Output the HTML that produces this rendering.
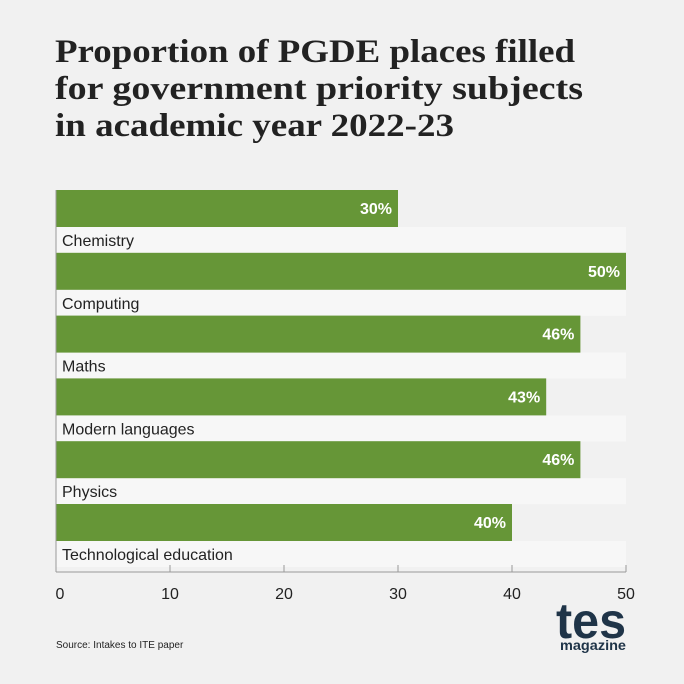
<!DOCTYPE html>
<html><head><meta charset="utf-8"><style>
html,body{margin:0;padding:0;background:#f1f1f1;}
svg{display:block;}
</style></head><body>
<svg id="chart" width="684" height="684" viewBox="0 0 684 684">
<rect width="684" height="684" fill="#f1f1f1"/>
<g font-family="'Liberation Serif',serif" font-weight="bold" font-size="33" fill="#222">
<text x="55" y="62" textLength="520" lengthAdjust="spacingAndGlyphs">Proportion of PGDE places filled</text>
<text x="55" y="99" textLength="528" lengthAdjust="spacingAndGlyphs">for government priority subjects</text>
<text x="55" y="136" textLength="399" lengthAdjust="spacingAndGlyphs">in academic year 2022-23</text>
</g>
<g id="plot"></g>
<text x="56" y="648" font-family="'Liberation Sans',sans-serif" font-size="10" fill="#222">Source: Intakes to ITE paper</text>
<g fill="#1f3448" font-family="'Liberation Sans',sans-serif" font-weight="bold">
<text x="556" y="638" font-size="50" textLength="70" lengthAdjust="spacingAndGlyphs">tes</text>
<text x="560" y="650" font-size="14" textLength="66" lengthAdjust="spacingAndGlyphs">magazine</text>
</g>
</svg>
<script>
const categories = ["Chemistry","Computing","Maths","Modern languages","Physics","Technological education"];
const values = [30,50,46,43,46,40];
const ticks = [0,10,20,30,40,50];
const NS = "http://www.w3.org/2000/svg";
const plot = document.getElementById("plot");
const x0 = 56, x1 = 626, xMax = 50;
const top0 = 190, step = 62.8, barH = 37, bandH = 26;
const axisY = 572;
function xs(v){ return x0 + (v / xMax) * (x1 - x0); }
function mk(tag, attrs){ const e = document.createElementNS(NS, tag); for (const k in attrs) e.setAttribute(k, attrs[k]); plot.appendChild(e); return e; }
categories.forEach((c, i) => {
  const y = top0 + i * step;
  const band = mk("rect", {x: x0, y: y + barH, width: x1 - x0, height: bandH, fill: "#f7f7f7"});
  
  
  const bar = mk("rect", {x: x0, y: y, width: xs(values[i]) - x0, height: barH, fill: "#669637"});
  
  
  const vl = mk("text", {x: xs(values[i]) - 6, y: y + 24, "text-anchor": "end", "font-family": "'Liberation Sans',sans-serif", "font-weight": "bold", "font-size": "16", fill: "#fff"});
  vl.textContent = values[i] + "%";
  
  
  const cl = mk("text", {x: 62, y: y + barH + 19, "font-family": "'Liberation Sans',sans-serif", "font-size": "16", fill: "#222"});
  cl.textContent = c;
  
  
});
const yAxis = mk("line", {x1: x0, y1: top0, x2: x0, y2: axisY, stroke: "#999", "stroke-width": 1});


const xAxis = mk("line", {x1: x0, y1: axisY, x2: x1, y2: axisY, stroke: "#999", "stroke-width": 1});


ticks.forEach(t => {
  const tk = mk("line", {x1: xs(t), y1: axisY - 7, x2: xs(t), y2: axisY, stroke: "#999", "stroke-width": 1});
  
  
  const tl = mk("text", {x: xs(t) + (t === 0 ? 4 : 0), y: axisY + 27, "text-anchor": "middle", "font-family": "'Liberation Sans',sans-serif", "font-size": "16", fill: "#222"});
  tl.textContent = t;
  
  
});
</script>
</body></html>
